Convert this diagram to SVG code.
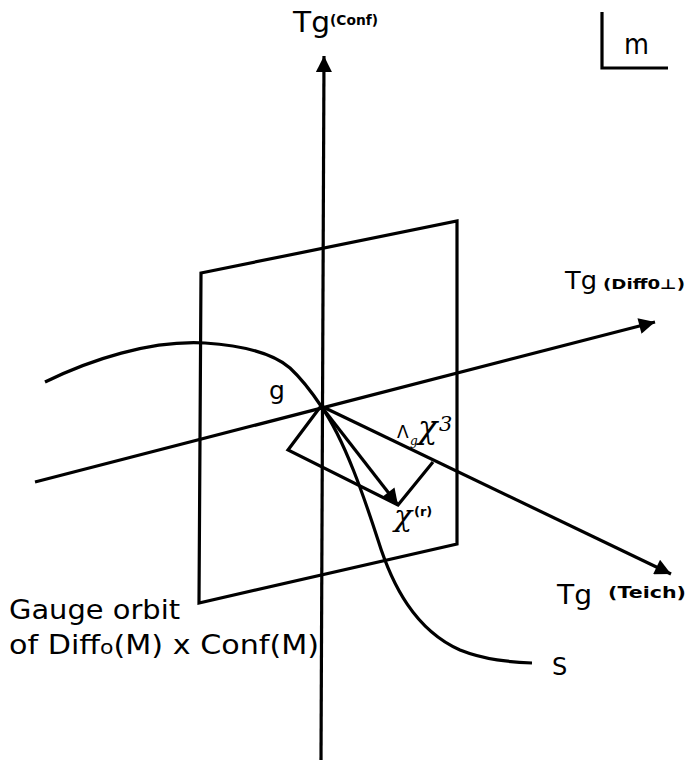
<svg xmlns="http://www.w3.org/2000/svg" width="691" height="762" viewBox="0 0 691 762">
<style>
.ln{stroke:#000;stroke-width:3.2;fill:none;stroke-linejoin:miter;stroke-linecap:butt}
.t{font-family:"DejaVu Sans","Liberation Sans",sans-serif;fill:#000}
.sup{font-family:"DejaVu Sans","Liberation Sans",sans-serif;font-weight:bold;fill:#000}
.gr{font-family:"DejaVu Serif","Liberation Serif",serif;font-style:italic;fill:#000}
</style>
<defs>
<marker id="ah" viewBox="0 0 10 10" refX="10" refY="5" markerWidth="6" markerHeight="5" markerUnits="strokeWidth" orient="auto">
<path d="M0,0 L10,5 L0,10 z" fill="#000"/>
</marker>
</defs>
<rect width="691" height="762" fill="#fff"/>
<g id="plane">
<polygon class="ln" points="201,273 457,221 457,544 199,603"/>
</g>
<g id="connectors">
<line class="ln" x1="321" y1="760" x2="324" y2="56" marker-end="url(#ah)"/>
<line class="ln" x1="35" y1="482" x2="655" y2="322" marker-end="url(#ah)"/>
<line class="ln" x1="321" y1="406" x2="671" y2="574" marker-end="url(#ah)"/>
<polyline class="ln" points="321,406 288,450 398,505 433,462"/>
<line class="ln" x1="321" y1="406" x2="398" y2="505" marker-end="url(#ah)"/>
<path class="ln" d="M45,382 C90,360 150,340 205,343 C250,346 275,355 290,368 C305,382 315,397 321,406 C345,440 365,500 378,540 C392,585 415,630 460,650 C485,660 510,662 532,663"/>
</g>
<g id="frame-m">
<polyline class="ln" points="602,12 602,68 668,68"/>
<text class="t" x="624" y="54" font-size="28" textLength="25" lengthAdjust="spacingAndGlyphs">m</text>
</g>
<g id="label-conf">
<text class="t" x="293" y="32" font-size="28" textLength="37" lengthAdjust="spacingAndGlyphs">Tg</text>
<text class="sup" x="330" y="25" font-size="14" textLength="48" lengthAdjust="spacingAndGlyphs">(Conf)</text>
</g>
<g id="label-diff">
<text class="t" x="565" y="289" font-size="24" textLength="32" lengthAdjust="spacingAndGlyphs">Tg</text>
<text class="sup" x="603" y="289" font-size="14" textLength="82" lengthAdjust="spacingAndGlyphs">(Diff0⊥)</text>
</g>
<g id="label-teich">
<text class="t" x="557" y="604" font-size="27" textLength="35" lengthAdjust="spacingAndGlyphs">Tg</text>
<text class="sup" x="608" y="598" font-size="16" textLength="78" lengthAdjust="spacingAndGlyphs">(Teich)</text>
</g>
<g id="label-g">
<text class="t" x="269" y="399" font-size="25">g</text>
</g>
<g id="label-lambda">
<text class="t" x="397" y="438" font-size="17">Λ</text>
<text class="gr" x="410" y="445" font-size="12">g</text>
<text class="gr" x="418" y="438" font-size="32">χ</text>
<text class="gr" x="439" y="431" font-size="21">3</text>
</g>
<g id="label-chi">
<text class="gr" x="394" y="526" font-size="30">χ</text>
<text class="sup" x="414" y="516" font-size="13">(r)</text>
</g>
<g id="label-orbit">
<text class="t" x="9" y="619" font-size="26" textLength="171" lengthAdjust="spacingAndGlyphs">Gauge orbit</text>
<text class="t" x="9" y="654" font-size="26" textLength="310" lengthAdjust="spacingAndGlyphs">of Diff<tspan font-size="19">o</tspan>(M) x Conf(M)</text>
</g>
<g id="label-s">
<text class="t" x="552" y="675" font-size="24">S</text>
</g>
</svg>
